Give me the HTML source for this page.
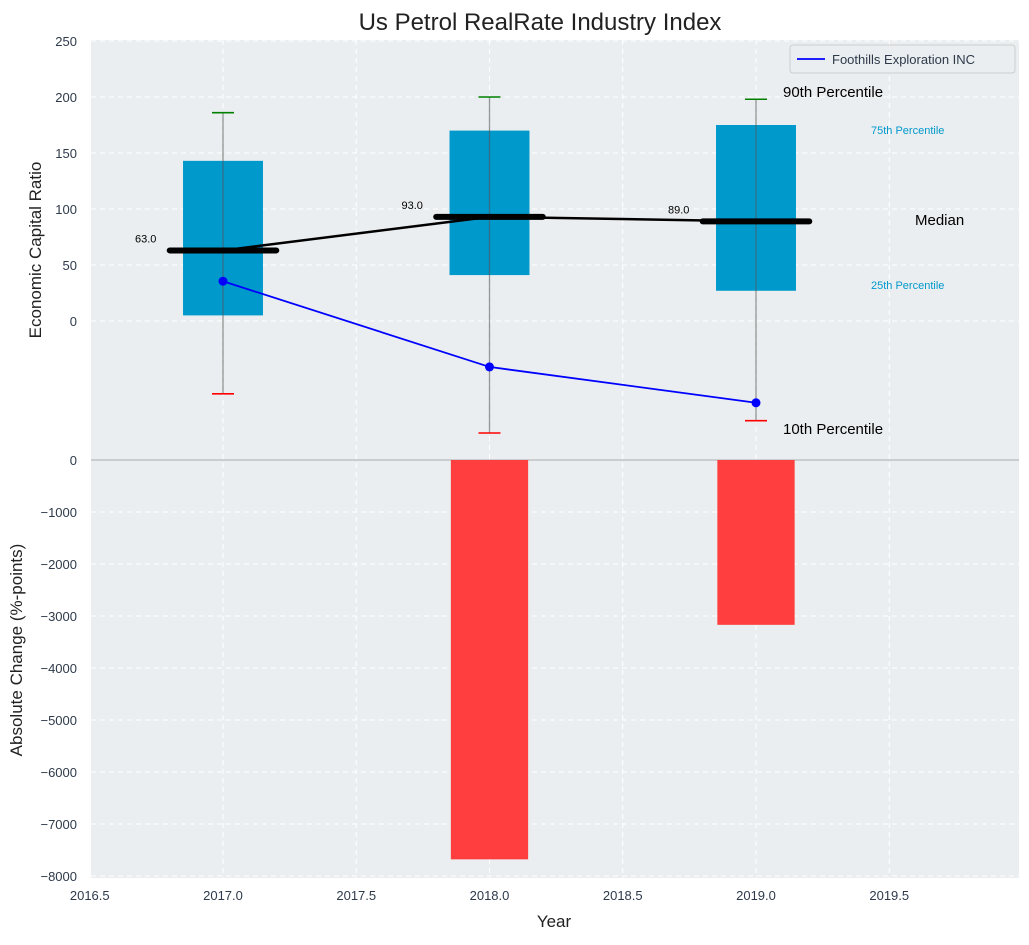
<!DOCTYPE html>
<html><head><meta charset="utf-8"><style>
body{margin:0;background:#fff;font-family:"Liberation Sans",sans-serif;}
svg text{font-family:"Liberation Sans","DejaVu Sans",sans-serif;}
</style></head><body>
<svg id="c" width="1029" height="940" xmlns="http://www.w3.org/2000/svg"></svg>
<script>
const years=[2017,2018,2019];
const p10=[-65,-100,-89];
const p25=[5,41,27];
const p50=[63,93,89];
const p75=[143,170,175];
const p90=[186,200,198];
const company=[35.5,-41,-73];
const absChange=[0,-7680,-3170];
const topTicks=[0,50,100,150,200,250];
const botTicks=[0,-1000,-2000,-3000,-4000,-5000,-6000,-7000,-8000];
const xTicks=[2016.5,2017.0,2017.5,2018.0,2018.5,2019.0,2019.5];

const L=91,R=1019;
const X=v=>223+(v-2017)*266.5;
const YT=v=>321-v*1.12;
const YB=v=>460-v*0.052;
const svg=document.getElementById('c');
const NS='http://www.w3.org/2000/svg';
function mk(t,a,txt){const e=document.createElementNS(NS,t);for(const k in a)e.setAttribute(k,a[k]);if(txt!==undefined)e.textContent=txt;svg.appendChild(e);return e;}
let e;
e=mk('rect',{x:L,y:40,width:R-L,height:838,fill:'#ebeef0'});


// grid
xTicks.forEach(t=>{e=mk('line',{x1:X(t),x2:X(t),y1:40,y2:878,stroke:'#fff','stroke-dasharray':'5,4','stroke-width':1});


e=mk('text',{x:X(t),y:900,'text-anchor':'middle','font-size':13,fill:'#2e3a4a'},t.toFixed(1));

});
topTicks.forEach(t=>{e=mk('line',{x1:L,x2:R,y1:YT(t),y2:YT(t),stroke:'#fff','stroke-dasharray':'5,4'});


e=mk('text',{x:77,y:YT(t)+5,'text-anchor':'end','font-size':13,fill:'#2e3a4a'},t);

});
botTicks.forEach(t=>{e=mk('line',{x1:L,x2:R,y1:YB(t),y2:YB(t),stroke:'#fff','stroke-dasharray':'5,4'});


e=mk('text',{x:77,y:YB(t)+5,'text-anchor':'end','font-size':13,fill:'#2e3a4a'},t===0?'0':'\u2212'+Math.abs(t));

});
e=mk('line',{x1:L,x2:R,y1:460,y2:460,stroke:'#aaa','stroke-width':1});


// boxes
years.forEach((y,i)=>{
e=mk('rect',{x:X(y-0.15),y:YT(p75[i]),width:X(y+0.15)-X(y-0.15),height:YT(p25[i])-YT(p75[i]),fill:'#0099cc'});


e=mk('line',{x1:X(y),x2:X(y),y1:YT(p90[i]),y2:YT(p10[i]),stroke:'#555','stroke-opacity':0.6,'stroke-width':1.3});


e=mk('line',{x1:X(y)-11,x2:X(y)+11,y1:YT(p90[i]),y2:YT(p90[i]),stroke:'green','stroke-width':1.6});


e=mk('line',{x1:X(y)-11,x2:X(y)+11,y1:YT(p10[i]),y2:YT(p10[i]),stroke:'red','stroke-width':1.6});


});
// median connector
e=mk('polyline',{points:years.map((y,i)=>X(y)+','+YT(p50[i])).join(' '),fill:'none',stroke:'#000','stroke-width':2.5});


years.forEach((y,i)=>{
e=mk('line',{x1:X(y-0.2),x2:X(y+0.2),y1:YT(p50[i]),y2:YT(p50[i]),stroke:'#000','stroke-width':6,'stroke-linecap':'round'});


e=mk('text',{x:X(y-0.25),y:YT(p50[i])-8,'text-anchor':'end','font-size':11,fill:'#000'},p50[i].toFixed(1));


});
// company line
e=mk('polyline',{points:years.map((y,i)=>X(y)+','+YT(company[i])).join(' '),fill:'none',stroke:'blue','stroke-width':1.8});


years.forEach((y,i)=>{e=mk('circle',{cx:X(y),cy:YT(company[i]),r:4.5,fill:'blue'});

});
// bars
years.forEach((y,i)=>{if(!absChange[i])return;
e=mk('rect',{x:X(y-0.145),y:YB(0),width:X(y+0.145)-X(y-0.145),height:YB(absChange[i])-YB(0),fill:'#ff3f3f'});

});
// annotations
const ann=[[783,97,'90th Percentile',15,'#000'],[871,134,'75th Percentile',11,'#0099cc'],[915,225,'Median',15,'#000'],[871,289,'25th Percentile',11,'#0099cc'],[783,434,'10th Percentile',15,'#000']];
ann.forEach(a=>{e=mk('text',{x:a[0],y:a[1],'font-size':a[3],fill:a[4]},a[2]);

});
// legend
e=mk('rect',{x:790,y:45,width:225,height:28,fill:'#ebeef0',stroke:'#ccc',rx:3});


e=mk('line',{x1:797,x2:825,y1:59,y2:59,stroke:'blue','stroke-width':1.8});


e=mk('text',{x:832,y:64,'font-size':13,fill:'#2e3a4a'},'Foothills Exploration INC');


// titles
e=mk('text',{x:540,y:30,'text-anchor':'middle','font-size':24,fill:'#222'},'Us Petrol RealRate Industry Index');


e=mk('text',{x:554,y:927,'text-anchor':'middle','font-size':17,fill:'#222'},'Year');


e=mk('text',{x:0,y:0,'text-anchor':'middle','font-size':17,fill:'#222',transform:'translate(41,250) rotate(-90)'},'Economic Capital Ratio');


e=mk('text',{x:0,y:0,'text-anchor':'middle','font-size':17,fill:'#222',transform:'translate(22,650) rotate(-90)'},'Absolute Change (%-points)');


</script>
</body></html>
